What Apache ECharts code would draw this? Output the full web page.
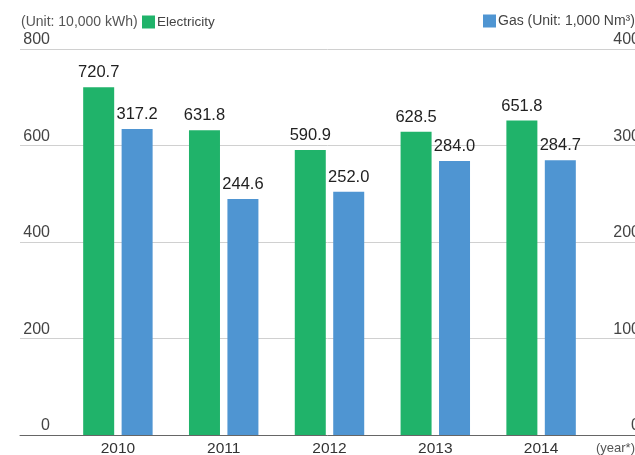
<!DOCTYPE html>
<html>
<head>
<meta charset="utf-8">
<script src="https://cdn.jsdelivr.net/npm/echarts@6/dist/echarts.min.js"></script>
<style>html,body{margin:0;padding:0;background:#fff}#c{width:635px;height:455px}</style>
</head>
<body>
<div id="c"></div>
<script>
const years = ['2010', '2011', '2012', '2013', '2014'];
const electricity = [720.7, 631.8, 590.9, 628.5, 651.8];
const gas = [317.2, 244.6, 252.0, 284.0, 284.7];
const leftTicks = { min: 0, max: 800, interval: 200 };
const rightTicks = { min: 0, max: 400, interval: 100 };
const elecName = 'Electricity';
const gasName = 'Gas (Unit: 1,000 Nm³)';

const GREEN = '#20b36a';
const BLUE = '#4f95d2';
const FONT = '"Liberation Sans",Arial,sans-serif';

const chart = echarts.init(document.getElementById('c'), null, { renderer: 'canvas' });
chart.setOption({
  animation: false,
  grid: [
    { left: 20, right: 0, top: 49, bottom: 20, outerBoundsMode: 'none', containLabel: false },
    { left: 65, right: 41, top: 49, bottom: 20, outerBoundsMode: 'none', containLabel: false }
  ],
  legend: [
    { data: [elecName], left: 142, top: 15, itemWidth: 13, itemHeight: 13, itemGap: 0,
      icon: 'rect', padding: 0,
      textStyle: { fontFamily: FONT, fontSize: 13.5, color: '#444', padding: [0, 0, 0, -3] } },
    { data: [gasName], left: 483, top: 14, itemWidth: 13, itemHeight: 13, itemGap: 0,
      icon: 'rect', padding: 0,
      textStyle: { fontFamily: FONT, fontSize: 14, color: '#444', padding: [0, 0, 0, -3] } }
  ],
  graphic: [
    { type: 'text', left: 21, top: 15,
      style: { text: '(Unit: 10,000 kWh)', font: '14px "Liberation Sans"', fill: '#555' } },
    { type: 'text', left: 596, top: 442,
      style: { text: '(year*)', font: '13px "Liberation Sans"', fill: '#555' } }
  ],
  xAxis: [
    { gridIndex: 0, type: 'category', data: [''], axisLine: { show: true, lineStyle: { color: '#666', width: 1 } },
      axisTick: { show: false }, axisLabel: { show: false }, splitLine: { show: false } },
    { gridIndex: 1, type: 'category', data: years, axisLine: { show: false }, axisTick: { show: false },
      axisLabel: { margin: 6, fontFamily: FONT, fontSize: 15.5, color: '#333' } }
  ],
  yAxis: [
    { gridIndex: 0, type: 'value', position: 'left', min: leftTicks.min, max: leftTicks.max, interval: leftTicks.interval,
      axisLine: { show: false }, axisTick: { show: false },
      splitLine: { show: true, lineStyle: { color: '#d0d0d0', width: 1 } },
      axisLabel: { inside: true, margin: 30, align: 'right', verticalAlign: 'bottom', padding: [0, 0, 1, 0],
        fontFamily: FONT, fontSize: 16, color: '#444' } },
    { gridIndex: 0, type: 'value', position: 'right', min: rightTicks.min, max: rightTicks.max, interval: rightTicks.interval,
      axisLine: { show: false }, axisTick: { show: false }, splitLine: { show: false },
      axisLabel: { inside: false, margin: 5, align: 'right', verticalAlign: 'bottom', padding: [0, 0, 1, 0],
        fontFamily: FONT, fontSize: 16, color: '#444' } },
    { gridIndex: 1, type: 'value', min: leftTicks.min, max: leftTicks.max, show: false },
    { gridIndex: 1, type: 'value', min: rightTicks.min, max: rightTicks.max, show: false }
  ],
  series: [
    { name: elecName, type: 'bar', xAxisIndex: 1, yAxisIndex: 2, data: electricity,
      barWidth: 31, barGap: '24%', itemStyle: { color: GREEN },
      label: { show: true, position: 'top', distance: 6, formatter: p => p.value.toFixed(1),
        fontFamily: FONT, fontSize: 16.5, color: '#222' } },
    { name: gasName, type: 'bar', xAxisIndex: 1, yAxisIndex: 3, data: gas,
      barWidth: 31, barGap: '24%', itemStyle: { color: BLUE },
      label: { show: true, position: 'top', distance: 6, formatter: p => p.value.toFixed(1),
        fontFamily: FONT, fontSize: 16.5, color: '#222' } }
  ]
});
</script>
</body>
</html>
